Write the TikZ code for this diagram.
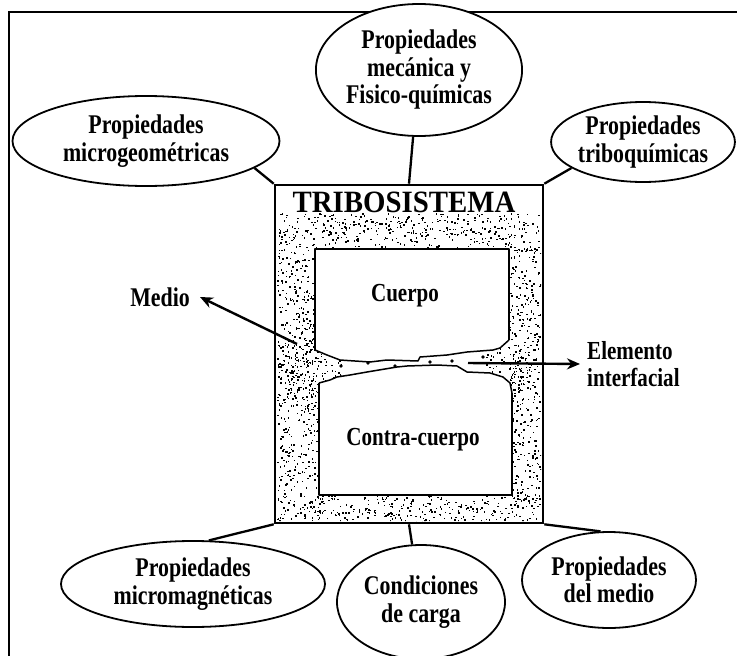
\documentclass[tikz,border=0pt]{standalone}
\usepackage{fontspec}
\setmainfont{Liberation Serif}
\newfontfamily\lblf{Liberation Serif}[FakeStretch=0.81]
\newfontfamily\ttlf{Liberation Serif}[FakeStretch=0.93]
\usetikzlibrary{shapes.geometric,arrows.meta}
\newcommand{\lblfont}{\lblf\fontsize{27}{27.5}\selectfont\bfseries}
\newcommand{\bodyfont}{\lblf\fontsize{26}{27.5}\selectfont\bfseries}
\begin{document}
\begin{tikzpicture}[x=1pt,y=-1pt,
  oval/.style={draw,line width=1.8pt,ellipse,fill=white,inner sep=0pt,align=center,font=\lblfont},
  conn/.style={line width=2.3pt},
  arr/.style={line width=2.4pt,-{Stealth[length=13pt,width=11pt]}},
  edge/.style={line width=2.6pt,line join=round},
  jag/.style={line width=1.5pt,line join=round},
  txt/.style={font=\lblfont,inner sep=0pt},
  btxt/.style={font=\bodyfont,inner sep=0pt}]
\useasboundingbox (0,0) rectangle (737,656);
% outer frame
\draw[line width=2pt] (9,656) -- (9,12) -- (737,12);
% tribosystem box
\node[draw,line width=2.6pt,minimum width=268pt,minimum height=338pt,inner sep=0pt] (tribo) at (409,354) {};
\node[font=\ttlf\fontsize{31}{31}\selectfont\bfseries,inner sep=0pt] (title) at (404,202) {TRIBOSISTEMA};
% stipple
\begin{scope}[even odd rule]
\clip (277,213) rectangle (541,521)
  (315,249) -- (509,249) -- (509,340) -- (500,348) -- (485,352) -- (485,372) -- (490,373) -- (503,377) -- (510,383) -- (512,393) -- (512,495) -- (319,495) -- (319,383) -- (330,380) -- (345,374) -- (345,360) -- (327,355) -- (315,350) -- cycle;
\pgfmathsetseed{11}
\foreach \i in {1,...,430}{\fill ({277+264*rnd},{213+37*rnd}) rectangle ++(1.5,1.5);}
\foreach \i in {1,...,330}{\fill ({277+264*rnd},{494+27*rnd}) rectangle ++(1.5,1.5);}
\foreach \i in {1,...,480}{\fill ({277+42*rnd},{249+246*rnd}) rectangle ++(1.5,1.5);}
\foreach \i in {1,...,360}{\fill ({508+33*rnd},{249+246*rnd}) rectangle ++(1.5,1.5);}
\foreach \i in {1,...,140}{\fill ({282+64*rnd},{335+62*rnd}) rectangle ++(1.5,1.5);}
\foreach \i in {1,...,90}{\fill ({484+50*rnd},{342+60*rnd}) rectangle ++(1.5,1.5);}
\end{scope}
% bodies
\fill[white] (315,249) -- (509,249) -- (509,340) -- (500,348) -- (493,350) -- (467,352) -- (447,355) -- (420,357) -- (418,361) -- (387,360) -- (370,362) -- (340,360) -- (327,355) -- (315,350) -- cycle;
\draw[edge] (315,350) -- (315,249) -- (509,249) -- (509,340);
\draw[jag] (509,340) -- (500,348) -- (493,350) -- (467,352) -- (447,355) -- (420,357) -- (418,361) -- (387,360) -- (370,362) -- (340,360) -- (327,355) -- (315,350);
\fill[white] (319,495) -- (512,495) -- (512,393) -- (510,383) -- (503,377) -- (490,373) -- (467,372) -- (457,366) -- (437,365) -- (407,366) -- (397,367) -- (385,369) -- (367,372) -- (350,375) -- (337,377) -- (330,380) -- (319,383) -- cycle;
\draw[edge] (319,383) -- (319,495) -- (512,495) -- (512,393);
\draw[jag] (512,393) -- (510,383) -- (503,377) -- (490,373) -- (467,372) -- (457,366) -- (437,365) -- (407,366) -- (397,367) -- (385,369) -- (367,372) -- (350,375) -- (337,377) -- (330,380) -- (319,383);
\foreach \p in {(368,363),(395,366),(452,361),(483,357),(341,366),(430,362)}{\fill \p circle (1.8pt);}
\node[btxt] (cuerpo) at (405,296) {Cuerpo};
\node[btxt] (contra) at (413,440) {Contra-cuerpo};
% ellipses
\node[oval,minimum width=178pt,minimum height=132pt] (mq) at (419,70) {Propiedades\\mecánica y\\Fisico-químicas};
\node[oval,minimum width=267pt,minimum height=90pt] (mg) at (146,141) {Propiedades\\microgeométricas};
\node[oval,minimum width=156pt,minimum height=80pt] (tq) at (643,142) {Propiedades\\triboquímicas};
\node[oval,minimum width=264pt,minimum height=86pt] (mm) at (193,584) {Propiedades\\micromagnéticas};
\node[oval,minimum width=168pt,minimum height=114pt] (cc) at (421,602) {Condiciones\\de carga};
\node[oval,minimum width=174pt,minimum height=96pt] (pm) at (609,580) {Propiedades\\del medio};
% connectors
\draw[conn] (mq) -- (tribo.north);
\draw[conn] (mg.-14) -- (tribo.north west);
\draw[conn] (tq.200) -- (tribo.north east);
\draw[conn] (mm.70) -- (tribo.south west);
\draw[conn] (cc) -- (tribo.south);
\draw[conn] (pm.100) -- (tribo.south east);
% arrows
\node[txt,anchor=east,inner xsep=10pt] (medio) at (200,297) {Medio};
\coordinate (mstart) at (297,344);
\draw[arr] (mstart) -- (medio.east);
\node[btxt,anchor=west,inner xsep=7pt,align=left] (elem) at (580,364) {Elemento\\interfacial};
\coordinate (estart) at (468,363);
\draw[arr] (estart) -- (elem.west);
\end{tikzpicture}
\end{document}
